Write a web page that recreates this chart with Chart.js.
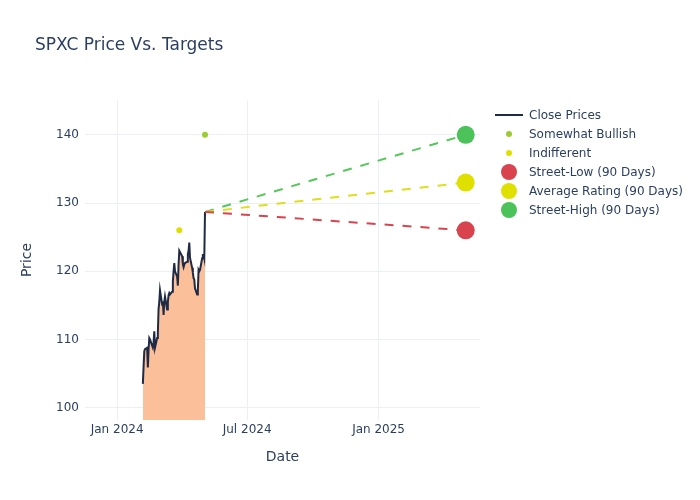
<!DOCTYPE html>
<html>
<head>
<meta charset="utf-8">
<script src="https://cdn.jsdelivr.net/npm/chart.js@4"></script>
<style>
  body { margin: 0; background: #fff; font-family: "DejaVu Sans", sans-serif; color: #2a3f5f; }
  #wrap { position: relative; width: 700px; height: 500px; }
  #title { position: absolute; left: 35px; top: 34px; font-size: 17px; }
  #legend { position: absolute; left: 495px; top: 105px; font-size: 12px; }
  .row { height: 19px; display: flex; align-items: center; }
  .sym { width: 28px; height: 19px; position: relative; margin-right: 6px; }
  .sym span { position: absolute; border-radius: 50%; }
</style>
</head>
<body>
<div id="wrap">
  <canvas id="chPrice" width="700" height="500"></canvas>
  <div id="title">SPXC Price Vs. Targets</div>
  <div id="legend"></div>
</div>
<script>
// price history
var dates = [
  '2024-02-06','2024-02-07','2024-02-08','2024-02-09','2024-02-12','2024-02-13','2024-02-14','2024-02-15','2024-02-16',
  '2024-02-20','2024-02-21','2024-02-22','2024-02-23','2024-02-26','2024-02-27','2024-02-28','2024-02-29',
  '2024-03-01','2024-03-04','2024-03-05','2024-03-06','2024-03-07','2024-03-08','2024-03-11','2024-03-12','2024-03-13',
  '2024-03-14','2024-03-15','2024-03-18','2024-03-19','2024-03-20','2024-03-21','2024-03-22','2024-03-25','2024-03-26',
  '2024-03-27','2024-03-28','2024-04-01','2024-04-02','2024-04-03','2024-04-04','2024-04-05','2024-04-08','2024-04-09',
  '2024-04-10','2024-04-11','2024-04-12','2024-04-15','2024-04-16','2024-04-17','2024-04-18','2024-04-19','2024-04-22',
  '2024-04-23','2024-04-24','2024-04-25','2024-04-26','2024-04-29','2024-04-30','2024-05-01','2024-05-02','2024-05-03'
];
var closePrices = [
  103.5,106.0,108.3,108.6,108.8,105.9,108.5,110.2,110.0,
  108.8,109.5,111.2,108.8,110.2,111.0,114.5,115.5,
  117.2,115.1,115.6,113.6,115.5,116.3,114.4,115.5,116.5,
  116.8,116.6,117.0,118.5,120.0,121.2,120.0,119.2,117.9,
  121.0,123.0,122.2,121.0,120.6,121.0,121.2,121.4,122.5,
  123.0,124.2,122.0,120.5,119.8,119.0,118.8,117.5,116.6,
  117.3,120.2,120.0,120.2,121.9,122.4,122.4,121.9,128.7
];

// analyst ratings
var bullishDates = ['2024-05-03'];
var bullishValues = [140];
var indifferentDates = ['2024-03-28'];
var indifferentValues = [126];

// 90 day targets
var targetDate = '2025-05-03';
var targetNames = ['Street-Low (90 Days)', 'Average Rating (90 Days)', 'Street-High (90 Days)'];
var targetValues = [126, 133, 140];
var targetColors = ['#d9434e', '#e0e000', '#4cc25a'];
var targetLineColors = ['#d9434e', '#dede1e', '#55c85a'];

var yTicks = [100, 110, 120, 130, 140];
var xTicks = ['2024-01-01', '2024-07-01', '2025-01-01'];
var monthNames = ['Jan','Feb','Mar','Apr','May','Jun','Jul','Aug','Sep','Oct','Nov','Dec'];

function ts(s) {
  var p = s.split('-');
  return Date.UTC(+p[0], +p[1] - 1, +p[2]);
}

var lastX = ts(dates[dates.length - 1]);
var lastY = closePrices[closePrices.length - 1];

var datasets = [];
datasets.push({
  label: 'Close Prices',
  data: dates.map(function (d, i) { return {x: ts(d), y: closePrices[i]}; }),
  showLine: true,
  borderColor: '#1f2a44',
  borderWidth: 2,
  backgroundColor: '#fbbf9a',
  fill: 'start',
  pointRadius: 0,
  order: 5
});
targetValues.forEach(function (v, i) {
  datasets.push({
    label: targetNames[i] + ' line',
    data: [{x: lastX, y: lastY}, {x: ts(targetDate), y: v}],
    showLine: true,
    borderColor: targetLineColors[i],
    borderWidth: 2,
    borderDash: [9, 9],
    pointRadius: 0,
    fill: false,
    order: 4
  });
});
datasets.push({
  label: 'Somewhat Bullish',
  data: bullishDates.map(function (d, i) { return {x: ts(d), y: bullishValues[i]}; }),
  pointRadius: 3, pointBorderWidth: 0, backgroundColor: '#9acd32', order: 2
});
datasets.push({
  label: 'Indifferent',
  data: indifferentDates.map(function (d, i) { return {x: ts(d), y: indifferentValues[i]}; }),
  pointRadius: 3, pointBorderWidth: 0, backgroundColor: '#e0e000', order: 2
});
targetValues.forEach(function (v, i) {
  datasets.push({
    label: targetNames[i],
    data: [{x: ts(targetDate), y: v}],
    pointRadius: 9, pointBorderWidth: 0, backgroundColor: targetColors[i], order: 1
  });
});

var tickFont = {family: 'DejaVu Sans', size: 12};

new Chart(document.getElementById('chPrice'), {
  type: 'scatter',
  data: {datasets: datasets},
  options: {
    responsive: false,
    animation: false,
    layout: {padding: {left: 15, right: 220, top: 100, bottom: 30}},
    plugins: {legend: {display: false}, tooltip: {enabled: false}},
    scales: {
      x: {
        type: 'linear',
        min: ts('2023-11-17'),
        max: ts('2025-05-23'),
        afterBuildTicks: function (s) { s.ticks = xTicks.map(function (d) { return {value: ts(d)}; }); },
        afterFit: function (s) { s.height = 50; },
        ticks: {
          color: '#2a3f5f', font: tickFont, padding: 3, maxRotation: 0,
          callback: function (v) { var d = new Date(v); return monthNames[d.getUTCMonth()] + ' ' + d.getUTCFullYear(); }
        },
        grid: {color: '#ebf0f8', drawTicks: false},
        border: {display: false},
        title: {display: true, text: 'Date', color: '#2a3f5f', font: {family: 'DejaVu Sans', size: 14}, padding: {top: 14}}
      },
      y: {
        min: 98.2,
        max: 145.1,
        afterBuildTicks: function (s) { s.ticks = yTicks.map(function (v) { return {value: v}; }); },
        afterFit: function (s) { s.width = 70; },
        ticks: {color: '#2a3f5f', font: tickFont, padding: 6},
        grid: {color: '#ebf0f8', drawTicks: false},
        border: {display: false},
        title: {display: true, text: 'Price', color: '#2a3f5f', font: {family: 'DejaVu Sans', size: 14}, padding: {bottom: 14}}
      }
    }
  }
});

// legend
var legendItems = [
  {name: 'Close Prices', type: 'line', color: '#1f2a44'},
  {name: 'Somewhat Bullish', type: 'dot', size: 6, color: '#9acd32'},
  {name: 'Indifferent', type: 'dot', size: 6, color: '#e0e000'}
];
targetValues.forEach(function (v, i) {
  legendItems.push({name: targetNames[i], type: 'dot', size: 16, color: targetColors[i]});
});
var lg = document.getElementById('legend');
legendItems.forEach(function (it) {
  var row = document.createElement('div');
  row.className = 'row';
  var sym = document.createElement('div');
  sym.className = 'sym';
  var m = document.createElement('span');
  if (it.type === 'line') {
    m.style.cssText = 'left:0;top:9px;width:28px;height:2px;border-radius:0;background:' + it.color;
  } else {
    m.style.cssText = 'left:' + (14 - it.size / 2) + 'px;top:' + (9.5 - it.size / 2) + 'px;width:' + it.size + 'px;height:' + it.size + 'px;background:' + it.color;
  }
  sym.appendChild(m);
  row.appendChild(sym);
  var t = document.createElement('span');
  t.textContent = it.name;
  row.appendChild(t);
  lg.appendChild(row);
});
</script>
</body>
</html>
